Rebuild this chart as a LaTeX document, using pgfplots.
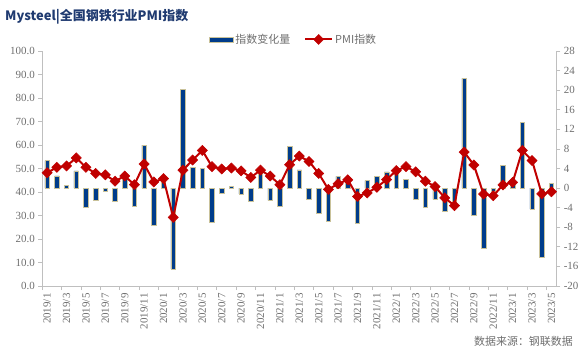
\documentclass[border=0pt]{standalone}
\usepackage{pgfplots}
\pgfplotsset{compat=1.18}
\usepackage{pgfplotstable}
\usepackage{fontspec}
\setmainfont{Liberation Serif}
\newfontfamily\cjk{Noto Sans CJK SC}
\definecolor{barblue}{HTML}{003C8A}
\definecolor{baredge}{HTML}{C9C29A}
\definecolor{linered}{HTML}{C00000}
\definecolor{axisgray}{HTML}{BFBFBF}
\definecolor{tickgray}{HTML}{6E6E6E}
\definecolor{titleblue}{HTML}{1F3A70}

\pgfplotstableread{
x pmi chg
0 48.2 5.6
1 50.5 2.5
2 51.1 0.6
3 54.5 3.5
4 50.5 -4.0
5 47.9 -2.5
6 47.3 -0.6
7 44.6 -2.7
8 46.8 2.0
9 43.1 -3.7
10 51.9 8.8
11 44.3 -7.6
12 45.7 1.4
13 29.2 -16.5
14 49.3 20.1
15 53.6 4.3
16 57.7 4.1
17 50.8 -6.9
18 49.8 -1.0
19 50.2 0.4
20 49.0 -1.2
21 46.2 -2.8
22 49.3 3.1
23 46.8 -2.5
24 43.1 -3.7
25 51.6 8.5
26 55.3 3.7
27 53.0 -2.3
28 47.9 -5.1
29 41.1 -6.8
30 43.5 2.4
31 45.2 1.7
32 38.1 -7.1
33 39.6 1.5
34 42.0 2.4
35 45.3 3.3
36 49.1 3.8
37 50.8 1.7
38 48.6 -2.2
39 44.6 -4.0
40 42.3 -2.3
41 37.5 -4.8
42 34.2 -3.8
43 57.0 22.4
44 51.5 -5.5
45 39.1 -12.2
46 38.4 -0.7
47 43.0 4.6
48 44.1 1.0
49 57.7 13.4
50 53.4 -4.3
51 39.2 -14.1
52 40.1 1.0
}\data

\begin{document}
\begin{tikzpicture}
\pgfplotsset{
 base/.style={
  scale only axis, width=514bp, height=235bp,
  at={(0,0)}, anchor=south west,
  xmin=-0.5, xmax=52.5,
  axis line style={axisgray, line width=0.8bp},
  tick align=outside,
  major tick length=4bp, minor tick length=4bp,
  every tick/.style={axisgray, line width=0.8bp},
  tick label style={font=\fontsize{11}{12}\selectfont, text=tickgray},
  /pgf/number format/assume math mode=true,
 }
}
\path[use as bounding box] (-42.3bp,-74bp) rectangle (543.7bp,286bp);
\begin{axis}[base,
  axis y line*=right, axis x line=none,
  ymin=-20, ymax=28, ytick={-20,-16,...,28},
  ]
\addplot[ybar, bar width=4.5bp, fill=barblue, draw=baredge, line width=0.6bp] table[x=x,y=chg]{\data};
\end{axis}
\begin{axis}[base,
  axis y line*=left, axis x line*=bottom,
  ymin=0, ymax=100, ytick={0,10,...,100},
  yticklabel style={/pgf/number format/.cd, fixed, fixed zerofill, precision=1},
  xtick={0,2,...,52},
  xticklabels={2019/1,2019/3,2019/5,2019/7,2019/9,2019/11,2020/1,2020/3,2020/5,2020/7,2020/9,2020/11,2021/1,2021/3,2021/5,2021/7,2021/9,2021/11,2022/1,2022/3,2022/5,2022/7,2022/9,2022/11,2023/1,2023/3,2023/5},
  minor xtick={-0.5,1.5,...,51.5},
  major x tick style={draw=none},
  xticklabel style={rotate=90, anchor=east},
  legend columns=2,
  legend style={draw=none, fill=none, at={(axis description cs:0.318,1.049)}, anchor=west,
    font=\cjk\fontsize{11}{12}\selectfont, text=tickgray,
    /tikz/every even column/.append style={column sep=12bp}},
  ]
\addlegendimage{legend image code/.code={\draw[fill=barblue,draw=baredge,line width=0.5bp] (0bp,-2.5bp) rectangle (24bp,2.5bp);}}
\addlegendentry{指数变化量}
\addlegendimage{legend image code/.code={\draw[linered,line width=2bp] (0bp,0bp) -- (27bp,0bp);
   \fill[linered] (13.5bp,-5bp) -- (18.5bp,0bp) -- (13.5bp,5bp) -- (8.5bp,0bp) -- cycle;}}
\addlegendentry{PMI指数}
\addplot[forget plot, linered, line width=2bp, mark=square*, mark size=3.6bp,
  mark options={rotate=45, fill=linered, draw=linered, line width=0.5bp}]
  table[x=x,y=pmi]{\data};
\end{axis}
\node[anchor=west, font=\cjk\bfseries\fontsize{13}{15}\selectfont, text=titleblue, inner sep=0pt] at (-37.3bp, 269.5bp) {Mysteel|全国钢铁行业PMI指数};
\node[anchor=east, font=\cjk\fontsize{11}{12}\selectfont, text=tickgray, inner sep=0pt] at (530.7bp, -55bp) {数据来源：钢联数据};
\end{tikzpicture}
\end{document}
